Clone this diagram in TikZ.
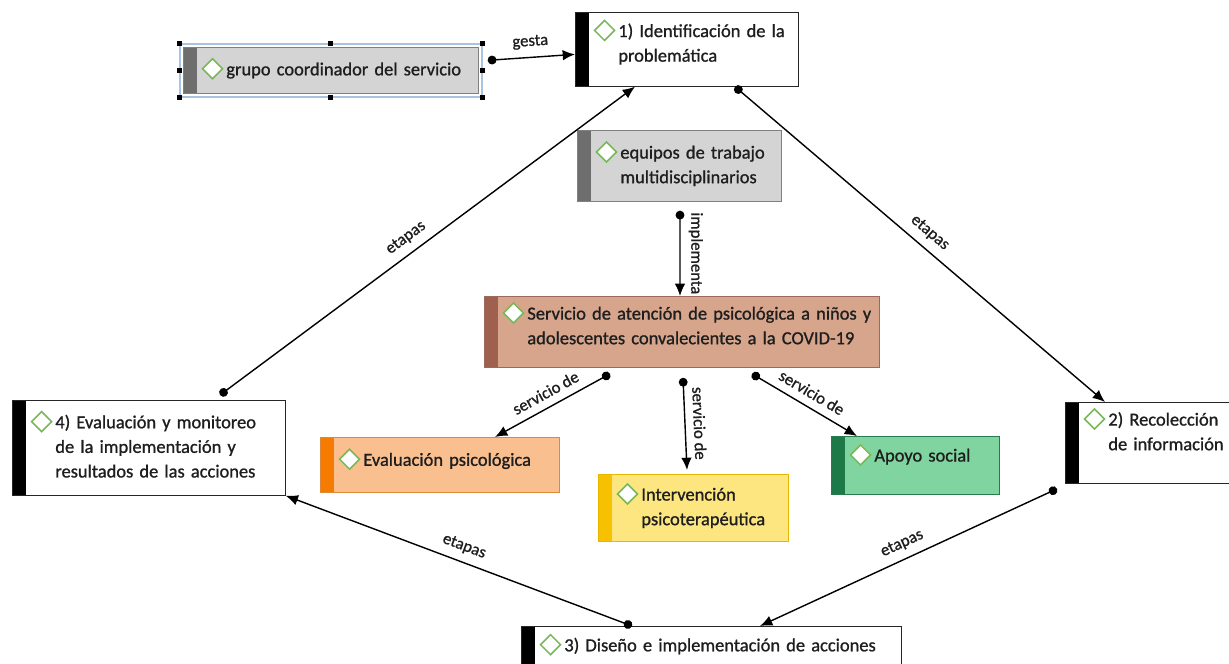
\documentclass[tikz,border=0pt]{standalone}
\usepackage{fontspec}
\setmainfont{Carlito}[FakeBold=1]
\usetikzlibrary{arrows.meta,fit}

\definecolor{txt}{HTML}{1E1E1E}
\definecolor{icongreen}{HTML}{78B858}
\definecolor{grisfill}{HTML}{D4D4D4}
\definecolor{grisbar}{HTML}{6E6E6E}
\definecolor{grisline}{HTML}{808080}
\definecolor{brownfill}{HTML}{D6A58C}
\definecolor{brownbar}{HTML}{A0604F}
\definecolor{brownline}{HTML}{9B6A5A}
\definecolor{orangefill}{HTML}{F9BF8F}
\definecolor{orangebar}{HTML}{F57C00}
\definecolor{orangeline}{HTML}{E0883A}
\definecolor{yellowfill}{HTML}{FDE680}
\definecolor{yellowbar}{HTML}{F7C100}
\definecolor{yellowline}{HTML}{E8B800}
\definecolor{greenfill}{HTML}{80D4A0}
\definecolor{greenbar}{HTML}{1D7A48}
\definecolor{greenline}{HTML}{2A7A50}
\definecolor{selblue}{HTML}{A8C4E0}

% diamond hangs to the left of the text block
\newcommand{\icono}{\tikz[baseline=-0.75ex]\draw[icongreen,line width=0.9pt,fill=white] (0,0)--(0.2,0.2)--(0.4,0)--(0.2,-0.2)--cycle;\hspace{0.06cm}}
\newcommand{\contenido}[1]{\hspace*{0.8cm}\llap{\icono}\begin{tabular}[t]{@{}l@{}}#1\end{tabular}}

\tikzset{
  caja/.style n args={3}{draw=#1, fill=#2, anchor=north west, inner xsep=0.06cm,
    align=left, text=txt, font=\fontsize{10.5}{14}\selectfont,
    path picture={\fill[#3] (path picture bounding box.north west) rectangle ([xshift=0.28cm]path picture bounding box.south west);}},
  etapa/.style={caja={black!85}{white}{black}},
  gris/.style={caja={grisline}{grisfill}{grisbar}},
  cafe/.style={caja={brownline}{brownfill}{brownbar}},
  naranja/.style={caja={orangeline}{orangefill}{orangebar}},
  amarillo/.style={caja={yellowline}{yellowfill}{yellowbar}},
  verde/.style={caja={greenline}{greenfill}{greenbar}},
  conn/.style={line width=0.8pt, {Circle[length=5pt]}-{Latex[length=7pt,width=6pt]}},
  rotulo/.style={font=\fontsize{9.5}{11}\selectfont, text=txt, inner sep=4.5pt}
}

\begin{document}
\begin{tikzpicture}
\useasboundingbox (0,0) rectangle (24.58,-13.28);
\clip (0,0) rectangle (24.58,-13.28);

\node[gris, minimum height=0.92cm, text width=5.78cm] (grupo) at (3.66,-0.94) {\contenido{grupo coordinador del servicio}};
\node[draw=selblue, line width=1pt, fit=(grupo), inner sep=0.06cm] (sel) {};
\foreach \a in {north west,north,north east,east,south east,south,south west,west}
  \fill (sel.\a) +(-0.05,-0.05) rectangle +(0.05,0.05);

\node[etapa, minimum height=1.48cm, text width=4.34cm, text depth=0.84cm] (ident) at (11.5,-0.24) {\contenido{1) Identificación de la\\problemática}};
\node[gris, minimum height=1.42cm, text width=3.96cm] (equipos) at (11.54,-2.6) {\contenido{equipos de trabajo\\multidisciplinarios}};
\node[cafe, minimum height=1.4cm, text width=7.78cm, text depth=0.84cm] (servicio) at (9.68,-5.92) {\contenido{Servicio de atención de psicológica a niños y\\adolescentes convalecientes a la COVID-19}};
\node[etapa, minimum height=1.9cm, text width=5.34cm] (eval4) at (0.24,-8.0) {\contenido{4) Evaluación y monitoreo\\de la implementación y\\resultados de las acciones}};
\node[etapa, minimum height=1.6cm, text width=3.88cm, text depth=1.04cm] (recol) at (21.3,-8.04) {\contenido{2) Recolección\\de información}};
\node[etapa, minimum height=1.2cm, text width=7.48cm, text depth=0.55cm] (diseno) at (10.42,-12.52) {\contenido{3) Diseño e implementación de acciones}};

\node[naranja, minimum height=1.1cm, text width=4.66cm, text depth=0.31cm] (evalpsi) at (6.4,-8.74) {\contenido{Evaluación psicológica}};
\node[amarillo, minimum height=1.34cm, text width=3.68cm] (interv) at (11.96,-9.48) {\contenido{Intervención\\psicoterapéutica}};
\node[verde, minimum height=1.16cm, text width=3.24cm, text depth=0.5cm] (apoyo) at (16.62,-8.72) {\contenido{Apoyo social}};

\draw[conn] ([xshift=0.18cm,yshift=0.2cm]grupo.east) -- node[rotulo, above, sloped] {gesta} ([yshift=-0.1cm]ident.west);
\draw[conn] ([xshift=3.2cm]ident.south west) -- node[rotulo, above, sloped] {etapas} ([xshift=0.8cm]recol.north west);
\draw[conn] ([xshift=4.16cm,yshift=0.1cm]eval4.north west) -- node[rotulo, above, sloped, pos=0.47] {etapas} ([xshift=1.2cm]ident.south west);
\draw[conn] ([xshift=2.22cm]diseno.north west) -- node[rotulo, above, sloped] {etapas} (eval4.south east);
\draw[conn] ([xshift=-0.16cm,yshift=-0.1cm]recol.south west) -- node[rotulo, above, sloped] {etapas} ([xshift=4.78cm]diseno.north west);

\draw[conn] ([xshift=2.06cm,yshift=-0.18cm]equipos.south west) -- node[rotulo, above, sloped] {implementa} ([xshift=3.92cm]servicio.north west);
\draw[conn] ([xshift=2.52cm,yshift=-0.12cm]servicio.south west) -- node[rotulo, above, sloped] {servicio de} ([xshift=3.5cm]evalpsi.north west);
\draw[conn] ([xshift=3.98cm,yshift=-0.2cm]servicio.south west) -- node[rotulo, above, sloped] {servicio de} ([xshift=1.78cm,yshift=0.08cm]interv.north west);
\draw[conn] ([xshift=5.36cm,yshift=-0.12cm]servicio.south west) -- node[rotulo, above, sloped] {servicio de} ([xshift=0.52cm]apoyo.north west);
\end{tikzpicture}
\end{document}
